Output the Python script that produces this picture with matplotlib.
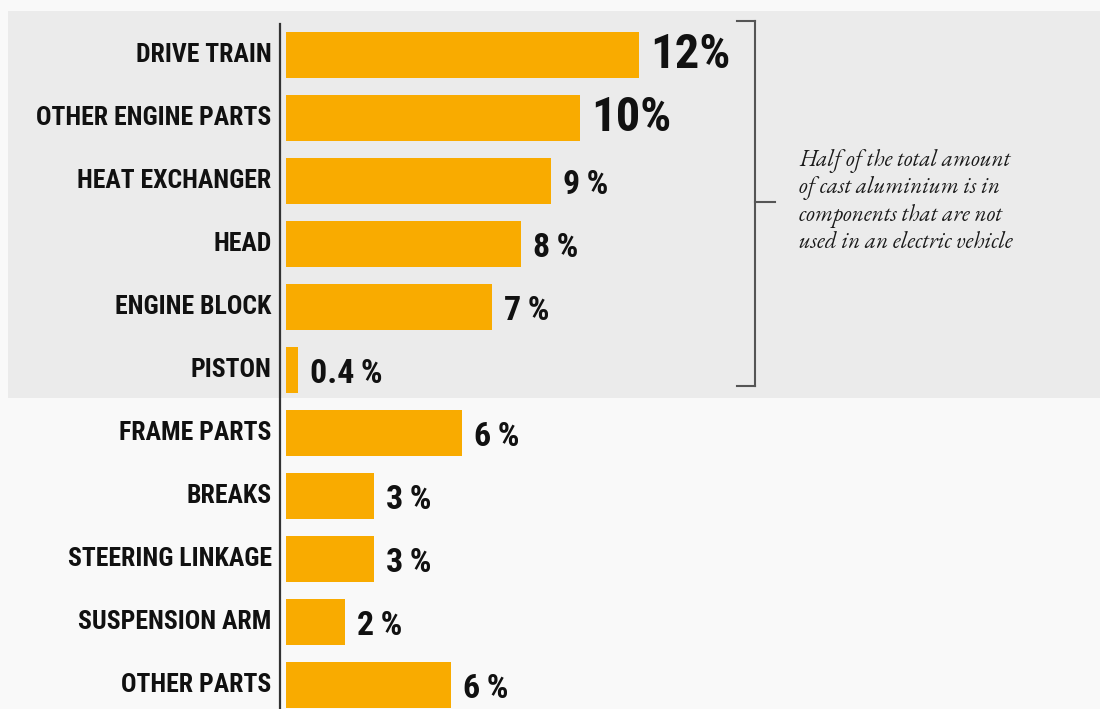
import matplotlib
matplotlib.use("Agg")
import matplotlib.pyplot as plt
from matplotlib.patches import Rectangle
from matplotlib.lines import Line2D
from matplotlib.transforms import ScaledTranslation

categories = ["DRIVE TRAIN", "OTHER ENGINE PARTS", "HEAT EXCHANGER", "HEAD",
              "ENGINE BLOCK", "PISTON", "FRAME PARTS", "BREAKS",
              "STEERING LINKAGE", "SUSPENSION ARM", "OTHER PARTS"]
values = [12, 10, 9, 8, 7, 0.4, 6, 3, 3, 2, 5.6]
value_labels = ["12%", "10%", "9\u2009%", "8\u2009%", "7\u2009%", "0.4\u2009%", "6\u2009%",
                "3\u2009%", "3\u2009%", "2\u2009%", "6\u2009%"]
big_labels = [True, True, False, False, False, False, False, False, False, False, False]
note = ("Half of the total amount\nof cast aluminium is in\n"
        "components that are not\nused in an electric vehicle")

W, H = 1100, 709
BG = "#f9f9f9"
PANEL = "#ebebeb"
BAR = "#f9ab00"
COND = ["Roboto Condensed", "DejaVu Sans"]
SERIF = ["EB Garamond", "Liberation Serif", "DejaVu Serif"]

fig = plt.figure(figsize=(W / 100, H / 100), dpi=100, facecolor=BG)

def px(x, y):
    return x / W, 1 - y / H

# gray panel behind first group
fig.patches.append(Rectangle(px(8, 398), 1092 / W, 387 / H, transform=fig.transFigure,
                             facecolor=PANEL, edgecolor="none", zorder=0))

ax = fig.add_axes([280 / W, 0, 820 / W, (709 - 24) / H])
ax.set_zorder(2)
ax.set_facecolor("none")
scale = 29.4  # px per percent
x0 = -6 / scale
ax.set_xlim(x0, x0 + 820 / scale)
ax.set_ylim((709 - 55) / 63, (24 - 55) / 63)

ypos = list(range(len(categories)))
ax.barh(ypos, values, height=46 / 63, color=BAR, zorder=2)

for y, v, lab, big in zip(ypos, values, value_labels, big_labels):
    ax.text(v + (11 if big else 12) / scale, y + 0.205, lab, ha="left", va="baseline",
            fontsize=35 if big else 24.5, fontweight="bold", family=COND, color="#111111")

ax.set_yticks(ypos)
ax.set_yticklabels(categories, family=COND, fontweight="bold", fontsize=18.5, color="#111111")
ax.tick_params(axis="y", length=0, pad=6)
shift = ScaledTranslation(0, 2.5 / 100, fig.dpi_scale_trans)
for t in ax.get_yticklabels():
    t.set_transform(t.get_transform() + shift)
ax.set_xticks([])
for s in ["top", "right", "bottom"]:
    ax.spines[s].set_visible(False)
ax.spines["left"].set_color("#333333")
ax.spines["left"].set_linewidth(1.6)

# bracket
bc = "#555555"
for (xa, ya), (xb, yb) in [((737, 21), (755, 21)), ((755, 21), (755, 386)),
                           ((737, 386), (755, 386)), ((755, 202), (775, 202))]:
    (fx0, fy0), (fx1, fy1) = px(xa, ya), px(xb, yb)
    fig.add_artist(Line2D([fx0, fx1], [fy0, fy1], transform=fig.transFigure,
                          color=bc, linewidth=1.5, solid_capstyle="projecting", zorder=3))

fig.text(799 / W, 1 - 202 / H, note, ha="left", va="center", fontsize=16.5,
         style="italic", fontweight="medium", family=SERIF, color="#1a1a1a",
         linespacing=1.2, zorder=3)

fig.savefig("out.png", dpi=100, facecolor=BG)
